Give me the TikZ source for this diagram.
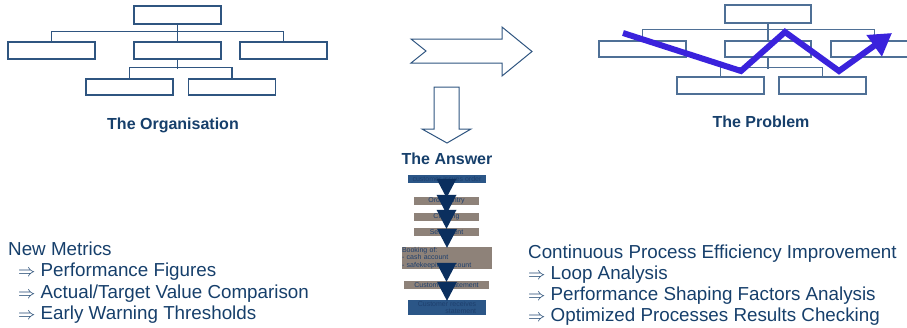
\documentclass[tikz,border=0pt]{standalone}
\usepackage{fontspec}
\setmainfont{Liberation Sans}
\usetikzlibrary{arrows.meta}
\definecolor{txt}{HTML}{163F6B}
\definecolor{orgline}{HTML}{2F5580}
\definecolor{probline}{HTML}{4F7096}
\definecolor{zig}{HTML}{3A22DC}
\definecolor{fblue}{HTML}{2B5687}
\definecolor{fgray}{HTML}{8E8279}
\definecolor{ftxt}{HTML}{1E3F6D}
\definecolor{tri}{HTML}{0B2F5E}
\tikzset{
  orgbox/.style={draw=orgline, line width=1.2pt, minimum width=87pt, minimum height=17pt, inner sep=0pt, fill=white},
  probbox/.style={orgbox, draw=probline},
  orgconn/.style={draw=orgline, line width=1.2pt},
  probconn/.style={draw=probline, line width=1.2pt},
  titletxt/.style={font=\bfseries\fontsize{16}{19}\selectfont, text=txt, inner sep=0pt},
  bigtxt/.style={font=\fontsize{18.8}{21.5}\selectfont, text=txt, anchor=base west, inner sep=0pt},
  flowbox/.style={inner sep=0pt, font=\fontsize{7}{7.5}\selectfont, text=ftxt, minimum height=8pt},
  bluebox/.style={flowbox, fill=fblue},
  graybox/.style={flowbox, fill=fgray},
  tritip/.style={fill=tri},
  bigarrow/.style={draw=orgline, line width=1pt, fill=white, line join=miter},
  zigline/.style={draw=zig, line width=6pt, line join=miter, -{Triangle[length=22pt,width=25pt]}}
}
\begin{document}
\begin{tikzpicture}[x=1pt,y=-1pt]
\useasboundingbox (0,0) rectangle (907,327);
\clip (0,0) rectangle (907,327);

% ---------- The Organisation ----------
\node[orgbox, minimum height=18pt] (ot) at (177.5,15) {};
\node[orgbox] (ol) at (51.5,50.5) {};
\node[orgbox] (om) at (177.5,50.5) {};
\node[orgbox] (or) at (283.5,50.5) {};
\node[orgbox, minimum height=16pt] (obl) at (129.5,87) {};
\node[orgbox, minimum height=16pt] (obr) at (232,87) {};
\draw[orgconn] (ot.south) -- (om.north);
\draw[orgconn] (ol.north) -- ++(0,-10) -| (or.north);
\draw[orgconn] (om.south) -- ++(0,9);
\draw[orgconn] (obl.north) -- ++(0,-11) -| (obr.north);
\node[titletxt] (otitle) at (173,125) {The Organisation};

% ---------- The Problem ----------
\node[probbox, minimum width=86pt, minimum height=18pt] (pt) at (768,14) {};
\node[probbox, minimum height=16pt] (pl) at (642.5,49) {};
\node[probbox, minimum width=86pt, minimum height=16pt] (pm) at (768,49) {};
\node[probbox, minimum height=16pt] (pr) at (874.5,49) {};
\node[probbox] (pbl) at (720.5,85.5) {};
\node[probbox] (pbr) at (822.5,85.5) {};
\draw[probconn] (pt.south) -- (pm.north);
\draw[probconn] (pl.north) -- ++(0,-11) -| (pr.north);
\draw[probconn] (pm.south) -- ++(0,11);
\draw[probconn] (pbl.north) -- ++(0,-9) -| (pbr.north);
\node[titletxt] (ptitle) at (761,122) {The Problem};

\coordinate (z1) at (623,33);
\coordinate (z2) at (741,71);
\coordinate (z3) at (785,32);
\coordinate (z4) at (839,71);
\coordinate (z5) at (892,33);
\draw[zigline] (z1) -- (z2) -- (z3) -- (z4) -- (z5);

% ---------- Big arrows ----------
\draw[bigarrow] (411,39) -- (502,39) -- (502,27) -- (532,51.5) -- (502,76) -- (502,63) -- (411,63) -- (426,51) -- cycle;
\draw[bigarrow] (434,87) -- (459,87) -- (459,129) -- (471,129) -- (447,143) -- (422,129) -- (434,129) -- cycle;

% ---------- The Answer ----------
\node[titletxt] (atitle) at (447,159) {The Answer};
\node[bluebox, minimum width=78pt] (f1) at (447,179) {customer issues order};
\node[graybox, minimum width=65pt] (f2) at (446.5,201) {Order Entry};
\node[graybox, minimum width=65pt] (f3) at (446.5,217) {Clearing};
\node[graybox, minimum width=65pt] (f4) at (446.5,232) {Settlement};
\node[graybox, text width=90pt, minimum height=22pt, align=left] (f5) at (447,258) {Booking of:\\- cash account\\- safekeeping account};
\node[graybox, minimum width=85pt] (f6) at (446.5,285) {Customer Statement};
\node[bluebox, minimum width=78pt, minimum height=15pt, align=right] (f7) at (447,307.5) {Customer receives\\statement};
\foreach \b in {f2,f3,f4,f5,f6,f7}
  \fill[tritip] ([shift={(-10pt,18pt)}]\b.north) -- ([shift={(10pt,18pt)}]\b.north) -- ([yshift=-1pt]\b.north) -- cycle;

% ---------- Text blocks ----------
\node[bigtxt] (l1) at (8,255) {New Metrics};
\node[bigtxt] (l2) at (18,276.5) {$\Rightarrow$ Performance Figures};
\node[bigtxt] (l3) at (18,298) {$\Rightarrow$ Actual/Target Value Comparison};
\node[bigtxt] (l4) at (18,319.5) {$\Rightarrow$ Early Warning Thresholds};
\node[bigtxt] (r1) at (528,258) {Continuous Process Efficiency Improvement};
\node[bigtxt] (r2) at (528,279) {$\Rightarrow$ Loop Analysis};
\node[bigtxt] (r3) at (528,300) {$\Rightarrow$ Performance Shaping Factors Analysis};
\node[bigtxt] (r4) at (528,321) {$\Rightarrow$ Optimized Processes Results Checking};
\end{tikzpicture}
\end{document}
